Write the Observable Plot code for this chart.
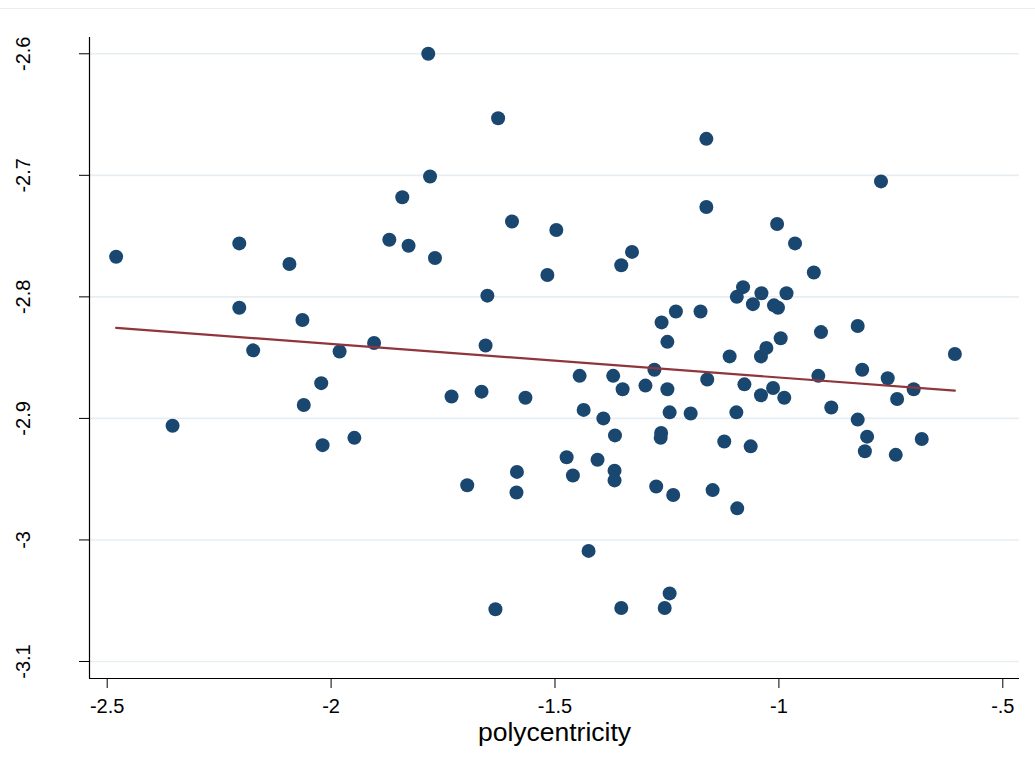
<!DOCTYPE html>
<html>
<head>
<meta charset="utf-8">
<script src="https://cdn.jsdelivr.net/npm/d3@7"></script>
<script src="https://cdn.jsdelivr.net/npm/@observablehq/plot@0.6"></script>
<style>
  html, body { margin: 0; padding: 0; background: #ffffff; }
  #wrap { position: relative; width: 1035px; height: 773px; }
  #topline { position: absolute; left: 0; top: 8px; width: 1035px; height: 1px; background: #e8eff2; }
</style>
</head>
<body>
<div id="wrap"><div id="topline"></div></div>
<script>
// polycentricity (x) values
const polycentricity = [
  -2.480, -2.354, -2.205, -2.205, -2.174, -2.093, -2.064, -2.061, -2.022, -2.019,
  -1.981, -1.948, -1.904, -1.870, -1.841, -1.827, -1.783, -1.779, -1.768, -1.731,
  -1.696, -1.664, -1.651, -1.655, -1.633, -1.627, -1.596, -1.585, -1.586, -1.566,
  -1.517, -1.497, -1.474, -1.460, -1.445, -1.436, -1.425, -1.405, -1.392, -1.370,
  -1.367, -1.367, -1.366, -1.352, -1.352, -1.349, -1.328, -1.298, -1.278, -1.274,
  -1.262, -1.263, -1.264, -1.255, -1.249, -1.249, -1.244, -1.244, -1.236, -1.230,
  -1.197, -1.175, -1.162, -1.162, -1.160, -1.148, -1.122, -1.110, -1.093, -1.094,
  -1.080, -1.077, -1.063, -1.058, -1.039, -1.040, -1.040, -1.028, -1.013, -1.011,
  -1.004, -1.002, -0.996, -0.988, -0.983, -0.964, -0.922, -0.912, -0.906, -0.883,
  -0.824, -0.824, -0.814, -0.808, -0.803, -0.772, -0.757, -0.739, -0.736, -0.699,
  -0.681, -0.607, -1.095
];
// outcome (y) values
const outcome = [
  -2.767, -2.906, -2.756, -2.809, -2.844, -2.773, -2.819, -2.889, -2.871, -2.922,
  -2.845, -2.916, -2.838, -2.753, -2.718, -2.758, -2.600, -2.701, -2.768, -2.882,
  -2.955, -2.878, -2.799, -2.840, -3.057, -2.653, -2.738, -2.944, -2.961, -2.883,
  -2.782, -2.745, -2.932, -2.947, -2.865, -2.893, -3.009, -2.934, -2.900, -2.865,
  -2.943, -2.951, -2.914, -3.056, -2.774, -2.876, -2.763, -2.873, -2.860, -2.956,
  -2.821, -2.912, -2.916, -3.056, -2.837, -2.876, -3.044, -2.895, -2.963, -2.812,
  -2.896, -2.812, -2.670, -2.726, -2.868, -2.959, -2.919, -2.849, -2.974, -2.800,
  -2.792, -2.872, -2.923, -2.806, -2.797, -2.849, -2.881, -2.842, -2.875, -2.807,
  -2.740, -2.809, -2.834, -2.883, -2.797, -2.756, -2.780, -2.865, -2.829, -2.891,
  -2.824, -2.901, -2.860, -2.927, -2.915, -2.705, -2.867, -2.930, -2.884, -2.876,
  -2.917, -2.847, -2.895
];
const xTicks = [-2.5, -2, -1.5, -1, -0.5];
const xTickLabels = ["-2.5", "-2", "-1.5", "-1", "-.5"];
const yTicks = [-2.6, -2.7, -2.8, -2.9, -3.0, -3.1];
const yTickLabels = ["-2.6", "-2.7", "-2.8", "-2.9", "-3", "-3.1"];
const xTitle = "polycentricity";

const data = polycentricity.map((x, i) => ({x, y: outcome[i]}));
const xDomain = [-2.5395, -0.4627];
const yDomain = [-3.114, -2.5866];

const font = "'Liberation Sans', Arial, Helvetica, sans-serif";

const chart = Plot.plot({
  width: 1035,
  height: 773,
  marginLeft: 89,
  marginRight: 16,
  marginTop: 37,
  marginBottom: 95,
  style: {fontFamily: font, background: "transparent", color: "#000"},
  x: {domain: xDomain, axis: null},
  y: {domain: yDomain, axis: null},
  marks: [
    Plot.ruleY(yTicks, {y: d => d, stroke: "#e6eef2", strokeWidth: 1.6}),
    Plot.axisY({ticks: yTicks, tickSize: 10, tickFormat: () => "", label: null, stroke: "#000"}),
    Plot.axisX({ticks: xTicks, tickSize: 10, tickFormat: () => "", label: null, stroke: "#000"}),
    Plot.ruleX([xDomain[0]], {x: d => d, stroke: "#000", strokeWidth: 1.2}),
    Plot.ruleY([yDomain[0]], {y: d => d, stroke: "#000", strokeWidth: 1.2}),
    Plot.text(yTicks, {y: d => d, text: (d, i) => yTickLabels[i], frameAnchor: "left", dx: -66, rotate: -90, textAnchor: "middle", lineAnchor: "middle", fontSize: 20, fill: "#000"}),
    Plot.text(xTicks, {x: d => d, text: (d, i) => xTickLabels[i], frameAnchor: "bottom", dy: 28, textAnchor: "middle", lineAnchor: "middle", fontSize: 20, fill: "#000"}),
    Plot.text([xTitle], {text: d => d, frameAnchor: "bottom", dy: 54, lineAnchor: "middle", fontSize: 26.5, fill: "#000"}),
    Plot.dot(data, {x: "x", y: "y", r: 7, fill: "#1a476f", stroke: "none"}),
    Plot.linearRegressionY(data, {x: "x", y: "y", ci: 0, stroke: "#90353b", strokeWidth: 2.2})
  ]
});
chart.style.position = "absolute";
chart.style.left = "0px";
chart.style.top = "0px";
document.getElementById("wrap").appendChild(chart);
</script>
</body>
</html>
